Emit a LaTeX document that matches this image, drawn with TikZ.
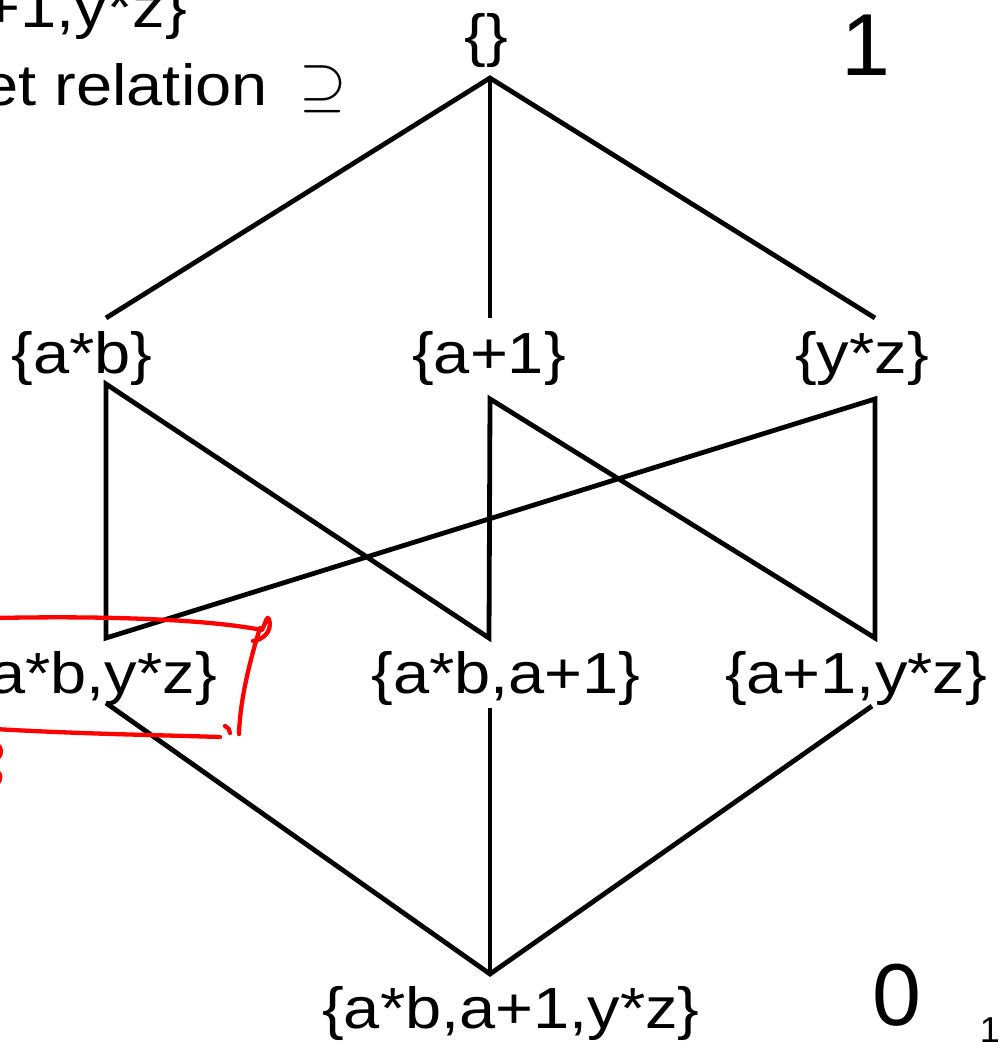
\documentclass[tikz,border=0pt]{standalone}
\usepackage{graphicx}
\usepackage{fontspec}
\setmainfont{Liberation Sans}
\newcommand{\wide}[1]{\scalebox{1.12}[1]{#1}}
\begin{document}
\begin{tikzpicture}[x=1pt,y=-1pt,
  lbl/.style={font=\fontsize{58}{62}\selectfont, inner sep=0pt},
  bignum/.style={font=\fontsize{88}{90}\selectfont, inner sep=0pt},
  pagenum/.style={font=\fontsize{36}{40}\selectfont, inner sep=0pt},
  edge/.style={line width=4.8pt, black},
  ink/.style={line width=4.3pt, red, line cap=round, line join=round}]
\useasboundingbox (0,0) rectangle (999,1042);
% texts
\node[lbl, anchor=base east] (expr) at (187,27) {\wide{\{a*b,a+1,y*z\}}};
\node[lbl, anchor=base east] (rel) at (268,105) {\wide{et relation}};
\node[inner sep=0pt, anchor=base west] (sup) at (299,104) {\scalebox{6.1}{$\supseteq$}};
\node[bignum, anchor=base] (one) at (866,75) {1};
\node[bignum, anchor=base] (zero) at (897,1025) {0};
\node[pagenum, anchor=base] (pg) at (990,1042) {1};
% lattice labels
\node[lbl, anchor=base] (top) at (486,55) {\wide{\{\}}};
\node[lbl, anchor=base] (ab) at (82,373) {\wide{\{a*b\}}};
\node[lbl, anchor=base] (a1) at (489,373) {\wide{\{a+1\}}};
\node[lbl, anchor=base] (yz) at (862,373) {\wide{\{y*z\}}};
\node[lbl, anchor=base east] (abyz) at (217,693) {\wide{\{a*b,y*z\}}};
\node[lbl, anchor=base] (aba1) at (506,693) {\wide{\{a*b,a+1\}}};
\node[lbl, anchor=base] (a1yz) at (856,693) {\wide{\{a+1,y*z\}}};
\node[lbl, anchor=base] (all) at (511,1028) {\wide{\{a*b,a+1,y*z\}}};
% joints
\coordinate (top-b) at (490,78);
\coordinate (ab-t) at (106,318);
\coordinate (a1-t) at (490,318);
\coordinate (yz-t) at (875,318);
\coordinate (ab-b) at (106,384);
\coordinate (a1-b) at (490,399);
\coordinate (yz-b) at (875,399);
\coordinate (abyz-t) at (106,638);
\coordinate (aba1-t) at (489,638);
\coordinate (a1yz-t) at (875,638);
\coordinate (abyz-b) at (106,703);
\coordinate (aba1-b) at (490,708);
\coordinate (a1yz-b) at (872,706);
\coordinate (all-t) at (490,974);
% connectors
\draw[edge] (ab-t) -- (top-b) -- (yz-t);
\draw[edge] (top-b) -- (a1-t);
\draw[edge] (abyz-t) -- (ab-b) -- (aba1-t) -- (a1-b) -- (a1yz-t) -- (yz-b) -- cycle;
\draw[edge] (abyz-b) -- (all-t) -- (a1yz-b);
\draw[edge] (aba1-b) -- (all-t);
% red hand annotation
\draw[ink] (-5,618) .. controls (90,616) and (200,618) .. (262,630)
  .. controls (266,622) and (267,615) .. (269,619)
  .. controls (273,632) and (262,640) .. (253,641);
\draw[ink] (260,628) .. controls (250,660) and (240,700) .. (239,734);
\draw[ink] (-5,729) .. controls (80,734) and (160,735) .. (220,737);
\draw[ink] (225,726) .. controls (228,727) and (230,730) .. (230,733);
\draw[ink] (-2,745) .. controls (2,748) and (2,755) .. (-2,758);
\draw[ink] (-2,772) .. controls (1,775) and (1,779) .. (-2,783);
\end{tikzpicture}
\end{document}
